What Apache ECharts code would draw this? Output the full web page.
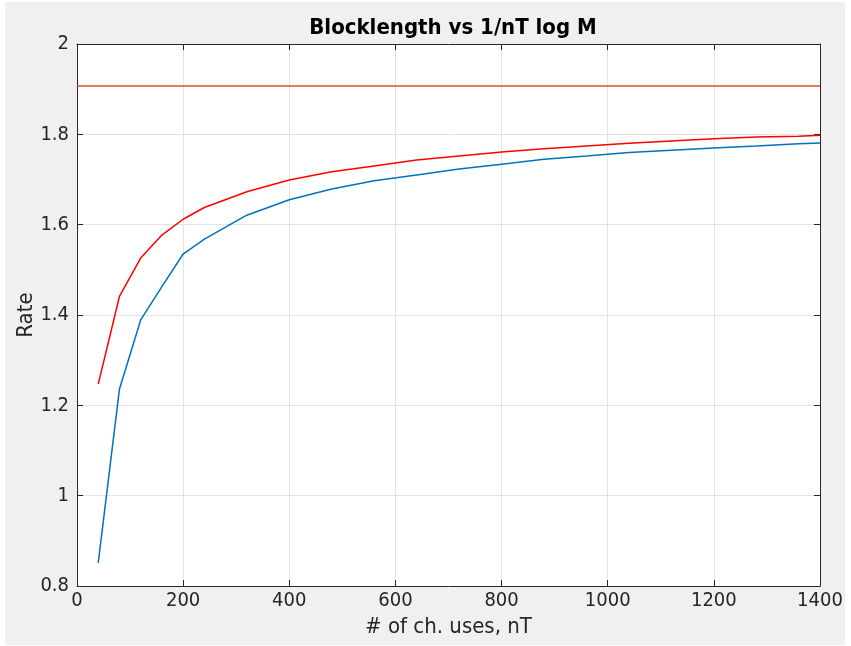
<!DOCTYPE html>
<html>
<head>
<meta charset="utf-8">
<script src="https://cdn.jsdelivr.net/npm/echarts@6/dist/echarts.min.js"></script>
<style>
html,body{margin:0;padding:0;background:#ffffff;}
#chart{width:851px;height:646px;}
</style>
</head>
<body>
<div id="chart"></div>
<script>
const nT = [40, 80, 120, 160, 200, 240, 320, 400, 480, 560, 640, 720, 800, 880, 960, 1040, 1120, 1200, 1280, 1360, 1400];
const rateRed = [1.247, 1.441, 1.526, 1.577, 1.612, 1.638, 1.673, 1.699, 1.717, 1.730, 1.743, 1.752, 1.761, 1.768, 1.774, 1.780, 1.785, 1.790, 1.794, 1.796, 1.798];
const rateBlue = [0.851, 1.236, 1.389, 1.463, 1.535, 1.568, 1.621, 1.655, 1.679, 1.697, 1.710, 1.723, 1.734, 1.745, 1.752, 1.760, 1.765, 1.770, 1.774, 1.779, 1.781];
const capacityX = [0, 1400];
const capacityY = [1.907, 1.907];
const xTicks = [0, 200, 400, 600, 800, 1000, 1200, 1400];
const yTicks = [0.8, 1, 1.2, 1.4, 1.6, 1.8, 2];

const FONT = 'DejaVu Sans Condensed, DejaVu Sans';
const TXT = '#262626';
const pair = (xs, ys) => xs.map((x, i) => [x, ys[i]]);

const chart = echarts.init(document.getElementById('chart'), null, {renderer: 'canvas'});
const grid = {left: 77, right: 31, top: 44, bottom: 60};
const axisCommon = {
  axisLine: {show: true, onZero: false, lineStyle: {color: '#262626', width: 1}},
  axisTick: {show: true, inside: true, length: 6, lineStyle: {color: '#262626'}},
};
chart.setOption({
  backgroundColor: '#ffffff',
  animation: false,
  graphic: [
    {type: 'rect', z: -10, shape: {x: 5, y: 2, width: 840, height: 643}, style: {fill: '#f0f0f0'}, silent: true}
  ],
  title: {
    text: 'Blocklength vs 1/nT log M',
    left: 448, top: 12, textAlign: 'center',
    textStyle: {fontFamily: FONT, fontSize: 22, fontWeight: 'bold', color: '#000000'}
  },
  grid: Object.assign({backgroundColor: '#ffffff', show: true, borderWidth: 0}, grid),
  xAxis: [
    Object.assign({
      type: 'value', min: 0, max: 1400, interval: 200, position: 'bottom',
      name: '# of ch. uses, nT', nameLocation: 'middle', nameGap: 29,
      nameTextStyle: {fontFamily: FONT, fontSize: 22, color: TXT},
      axisLabel: {fontFamily: FONT, fontSize: 20, color: TXT, margin: 5,
        formatter: v => xTicks.includes(v) ? String(v) : ''},
      splitLine: {show: true, lineStyle: {color: '#e3e3e3', width: 1}}
    }, axisCommon),
    Object.assign({
      type: 'value', min: 0, max: 1400, interval: 200, position: 'top',
      axisLabel: {show: false}, splitLine: {show: false}
    }, axisCommon)
  ],
  yAxis: [
    Object.assign({
      type: 'value', min: 0.8, max: 2, interval: 0.2, position: 'left',
      name: 'Rate', nameLocation: 'middle', nameGap: 40, nameMoveOverlap: false,
      nameTextStyle: {fontFamily: FONT, fontSize: 22, color: TXT},
      axisLabel: {fontFamily: FONT, fontSize: 20, color: TXT, margin: 8,
        formatter: v => { const t = yTicks.find(k => Math.abs(k - v) < 1e-6); return t === undefined ? '' : String(t); }},
      splitLine: {show: true, lineStyle: {color: '#e3e3e3', width: 1}}
    }, axisCommon),
    Object.assign({
      type: 'value', min: 0.8, max: 2, interval: 0.2, position: 'right',
      axisLabel: {show: false}, splitLine: {show: false}
    }, axisCommon)
  ],
  series: [
    {type: 'line', data: pair(capacityX, capacityY), symbol: 'none', lineStyle: {color: '#D95319', width: 1.5}, z: 3},
    {type: 'line', data: pair(nT, rateBlue), symbol: 'none', lineStyle: {color: '#0072BD', width: 1.5}, z: 4},
    {type: 'line', data: pair(nT, rateRed), symbol: 'none', lineStyle: {color: '#FF0000', width: 1.5}, z: 5}
  ]
});
</script>
</body>
</html>
